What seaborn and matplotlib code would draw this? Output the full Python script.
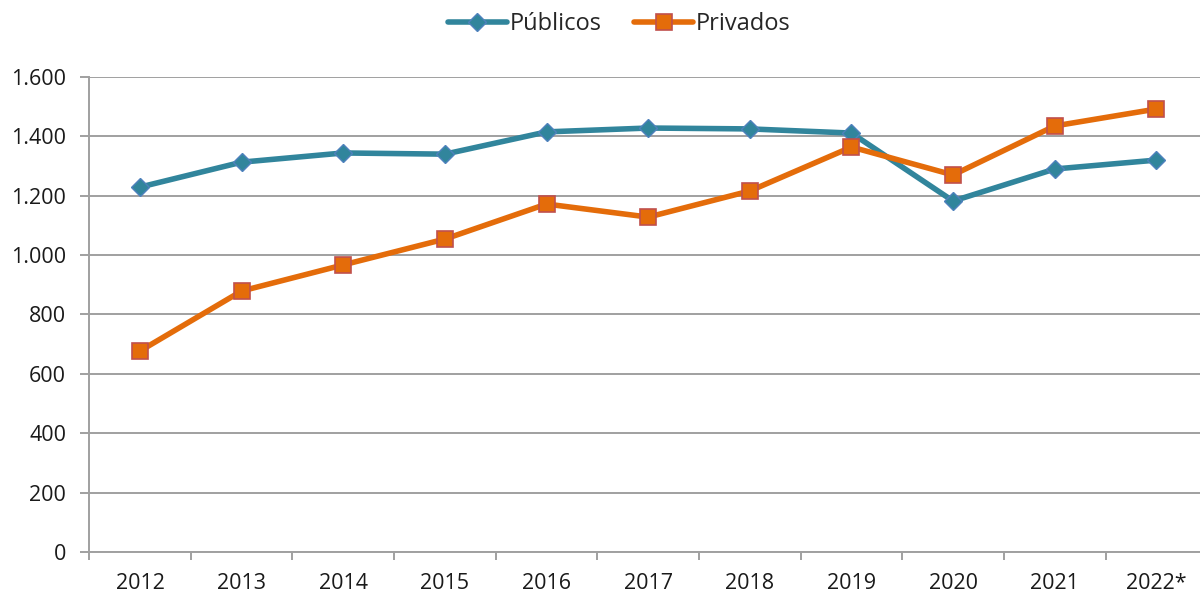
import numpy as np
import pandas as pd
import matplotlib
matplotlib.use("Agg")
import matplotlib.pyplot as plt
from matplotlib.ticker import FixedLocator, FuncFormatter
import seaborn as sns

# Data
years = ["2012", "2013", "2014", "2015", "2016", "2017", "2018", "2019", "2020", "2021", "2022*"]
publicos = [1229, 1313, 1344, 1340, 1415, 1428, 1425, 1411, 1182, 1290, 1320]
privados = [677, 879, 967, 1054, 1172, 1128, 1216, 1364, 1270, 1435, 1492]

sns.set_style("white")
plt.rcParams['font.family'] = ['Open Sans', 'DejaVu Sans']

fig = plt.figure(figsize=(12, 5.92), dpi=100)
ax = fig.add_axes([0.0743, 0.0676, 0.9317, 0.8024])

df = pd.DataFrame({"Año": years, "Públicos": publicos, "Privados": privados})

# gridlines first so the lines sit on top
ax.set_axisbelow(True)
ax.yaxis.grid(True, color="#a0a0a0", linewidth=1.4)

sns.lineplot(data=df, x="Año", y="Públicos", ax=ax, color="#31859c", linewidth=4,
             marker="D", markersize=9, markerfacecolor="#31859c",
             markeredgecolor="#4f81bd", markeredgewidth=1, label="Públicos", sort=False)
sns.lineplot(data=df, x="Año", y="Privados", ax=ax, color="#e46c0a", linewidth=4,
             marker="s", markersize=12, markerfacecolor="#e46c0a",
             markeredgecolor="#c0504d", markeredgewidth=1.2, label="Privados", sort=False)

ax.set_xlim(-0.5, len(years) - 0.5)
ax.set_ylim(0, 1600)
ax.set_xlabel("")
ax.set_ylabel("")

ax.yaxis.set_major_locator(FixedLocator(np.arange(0, 1601, 200)))
ax.yaxis.set_major_formatter(FuncFormatter(lambda v, p: f"{int(v):,}".replace(",", ".")))

ax.set_xticks(range(len(years)))
ax.set_xticklabels(years)
ax.set_xticks(np.arange(-0.5, len(years), 1.0), minor=True)
ax.tick_params(axis="x", which="major", length=0, pad=15, labelsize=15.5, colors="#1a1a1a")
ax.tick_params(axis="x", which="minor", bottom=True, length=6, width=1.4,
               color="#a0a0a0", direction="out")
ax.tick_params(axis="y", which="major", length=6.5, width=1.4, color="#a0a0a0", pad=10,
               labelsize=15.5, labelcolor="#1a1a1a", left=True)

for s in ["top", "right"]:
    ax.spines[s].set_visible(False)
for s in ["left", "bottom"]:
    ax.spines[s].set_color("#a0a0a0")
    ax.spines[s].set_linewidth(1.4)

ax.legend(loc="upper center", bbox_to_anchor=(0.516, 1.016), bbox_transform=fig.transFigure,
          ncol=2, frameon=False, fontsize=17, handlelength=2.5, handletextpad=0.1,
          columnspacing=1.4)

fig.savefig("out.png", dpi=100)
